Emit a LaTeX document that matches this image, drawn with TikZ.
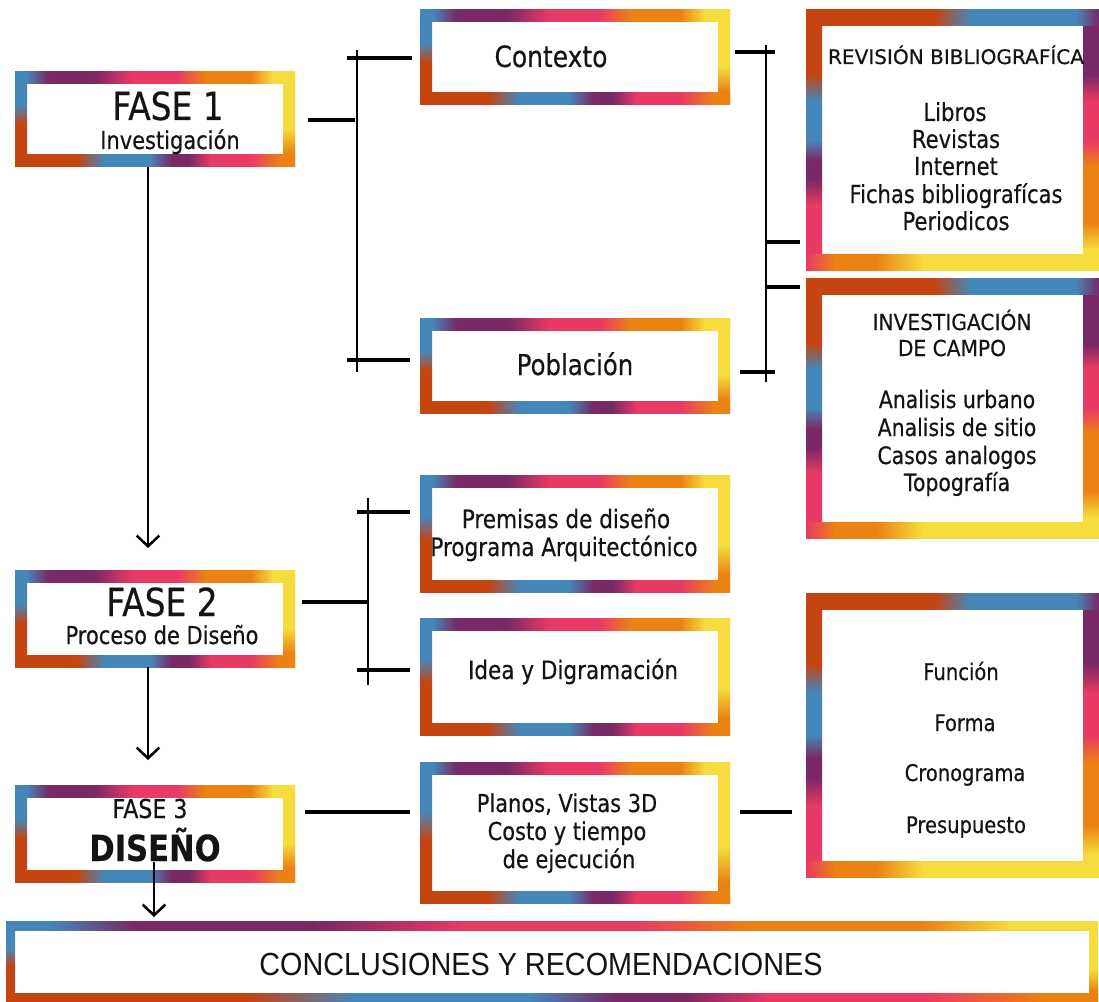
\documentclass[tikz,border=0pt]{standalone}
\usepackage{fontspec}
\setmainfont{DejaVu Sans}[FakeStretch=0.85,FakeBold=0.35]
\newfontfamily\concfont{Liberation Sans}
\usetikzlibrary{calc,arrows.meta,fit}
\definecolor{cbrn}{RGB}{196,68,18}
\definecolor{cblu}{RGB}{70,135,185}
\definecolor{cpur}{RGB}{120,40,100}
\definecolor{cpnk}{RGB}{232,58,100}
\definecolor{corg}{RGB}{236,130,20}
\definecolor{cyel}{RGB}{246,220,60}
\definecolor{ctxt}{RGB}{20,20,20}
% standard frames
\pgfdeclarehorizontalshading{stdtop}{100bp}{color(0bp)=(cblu); color(25bp)=(cblu); color(27bp)=(cblu); color(31bp)=(cpur); color(39bp)=(cpur); color(46bp)=(cpnk); color(54bp)=(cpnk); color(59bp)=(corg); color(67bp)=(corg); color(71bp)=(cyel); color(75bp)=(cyel); color(100bp)=(cyel)}
\pgfdeclarehorizontalshading{stdbot}{100bp}{color(0bp)=(cbrn); color(25bp)=(cbrn); color(36bp)=(cbrn); color(41bp)=(cblu); color(49bp)=(cblu); color(53bp)=(cpur); color(56bp)=(cpur); color(60bp)=(cpnk); color(67bp)=(cpnk); color(72.5bp)=(corg); color(75bp)=(corg); color(100bp)=(corg)}
\pgfdeclareverticalshading{stdleft}{100bp}{color(0bp)=(cbrn); color(25bp)=(cbrn); color(47.5bp)=(cbrn); color(57.5bp)=(cblu); color(75bp)=(cblu); color(100bp)=(cblu)}
\pgfdeclareverticalshading{stdright}{100bp}{color(0bp)=(corg); color(25bp)=(corg); color(32.5bp)=(corg); color(45bp)=(cyel); color(75bp)=(cyel); color(100bp)=(cyel)}
% rotated frames (right column)
\pgfdeclarehorizontalshading{rottop}{100bp}{color(0bp)=(cbrn); color(25bp)=(cbrn); color(47bp)=(cbrn); color(53bp)=(cblu); color(71bp)=(cblu); color(75bp)=(cpur); color(100bp)=(cpur)}
\pgfdeclareverticalshading{rotright}{100bp}{color(0bp)=(cyel); color(25bp)=(cyel); color(29bp)=(cyel); color(34bp)=(corg); color(45bp)=(corg); color(50bp)=(cpnk); color(57.5bp)=(cpnk); color(62.5bp)=(cpur); color(75bp)=(cpur); color(100bp)=(cpur)}
\pgfdeclarehorizontalshading{rotbot}{100bp}{color(0bp)=(cpnk); color(25bp)=(cpnk); color(30bp)=(corg); color(37bp)=(corg); color(45bp)=(cyel); color(75bp)=(cyel); color(100bp)=(cyel)}
\pgfdeclareverticalshading{rotleft}{100bp}{color(0bp)=(cpnk); color(25bp)=(cpnk); color(37.5bp)=(cpnk); color(42.5bp)=(cpur); color(46bp)=(cpur); color(50bp)=(cblu); color(57.5bp)=(cblu); color(62.5bp)=(cbrn); color(75bp)=(cbrn); color(100bp)=(cbrn)}
\newcommand\gframe[3]{%
  \shade[shading=#3left] (#1.north west) rectangle ($(#1.south west)+(#2,0)$);
  \shade[shading=#3right] ($(#1.north east)-(#2,0)$) rectangle (#1.south east);
  \shade[shading=#3top] (#1.north west) rectangle ($(#1.north east)+(0,#2)$);
  \shade[shading=#3bot] ($(#1.south west)-(0,#2)$) rectangle (#1.south east);
}
\tikzset{
  bx/.style={inner sep=0pt, outer sep=0pt, fill=white},
  tx/.style={anchor=base, inner sep=0pt, text=ctxt, font=\fontsize{#1}{#1}\selectfont},
  br/.style={line width=2.2pt, black},
  tk/.style={line width=3.2pt, black},
  ar/.style={line width=1.9pt, black, -{Straight Barb[length=8pt,width=17pt]}}
}
\begin{document}
\begin{tikzpicture}[x=0.75pt,y=-0.75pt]
\useasboundingbox[fill=white] (0,0) rectangle (1099,1002);
% boxes
\node[bx, fit={(15,72) (295,167)}] (f1) {};
\node[bx, fit={(420,10) (730,105)}] (ctx) {};
\node[bx, fit={(420,318) (730,413)}] (pob) {};
\node[bx, fit={(806,10) (1099,270)}] (rev) {};
\node[bx, fit={(806,278) (1099,538)}] (inv) {};
\node[bx, fit={(420,475) (730,592)}] (pre) {};
\node[bx, fit={(420,618) (730,735)}] (ide) {};
\node[bx, fit={(15,570) (295,667)}] (f2) {};
\node[bx, fit={(15,785) (295,882)}] (f3) {};
\node[bx, fit={(420,762) (730,903)}] (pla) {};
\node[bx, fit={(806,593) (1099,877)}] (fun) {};
\node[bx, fit={(6,921) (1098,1002)}] (con) {};
\gframe{f1}{12}{std}
\gframe{ctx}{12}{std}
\gframe{pob}{12}{std}
\gframe{pre}{12}{std}
\gframe{ide}{12}{std}
\gframe{f2}{12}{std}
\gframe{f3}{12}{std}
\gframe{pla}{12}{std}
\gframe{rev}{16}{rot}
\gframe{inv}{16}{rot}
\gframe{fun}{16}{rot}
\gframe{con}{9}{std}
% texts
\node[tx=29] (f1a) at (168,120) {FASE 1};
\node[tx=18.5] (f1b) at (170,149) {Investigación};
\node[tx=22] (ctxa) at (551,67) {Contexto};
\node[tx=15] (reva) at (956,64) {\scalebox{1.18}[1]{REVISIÓN BIBLIOGRAFÍCA}};
\node[tx=18.6] (revb) at (955,121) {Libros};
\node[tx=18.6] (revc) at (956,148) {Revistas};
\node[tx=18.6] (revd) at (956,175) {Internet};
\node[tx=18.6] (reve) at (956,203) {Fichas bibliografícas};
\node[tx=18.6] (revf) at (956,230) {Periodicos};
\node[tx=16.5] (inva) at (952,330) {\scalebox{1.08}[1]{INVESTIGACIÓN}};
\node[tx=16.5] (invb) at (952,356) {\scalebox{1.08}[1]{DE CAMPO}};
\node[tx=18] (invc) at (957,408) {Analisis urbano};
\node[tx=18] (invd) at (957,436) {Analisis de sitio};
\node[tx=18] (inve) at (957,464) {Casos analogos};
\node[tx=18] (invf) at (957,491) {Topografía};
\node[tx=21.5] (poba) at (575,375) {Población};
\node[tx=19] (prea) at (566,528) {Premisas de diseño};
\node[tx=19] (preb) at (564,556) {Programa Arquitectónico};
\node[tx=19] (idea) at (573,679) {Idea y Digramación};
\node[tx=29] (f2a) at (162,616) {FASE 2};
\node[tx=18.5] (f2b) at (162,644) {Proceso de Diseño};
\node[tx=19.5] (f3a) at (150,818) {FASE 3};
\node[tx=27] (f3b) at (155,861) {\bfseries DISEÑO};
\node[tx=18.5] (plaa) at (567,812) {Planos, Vistas 3D};
\node[tx=18.5] (plab) at (567,840) {Costo y tiempo};
\node[tx=18.5] (plac) at (569,868) {de ejecución};
\node[tx=17.2] (funa) at (961,680) {Función};
\node[tx=17.2] (funb) at (965,731) {Forma};
\node[tx=17.2] (func) at (965,781) {Cronograma};
\node[tx=17.2] (fund) at (966,833) {Presupuesto};
\node[tx=24] (cona) at (541,975) {\scalebox{0.9}[1]{\concfont CONCLUSIONES Y RECOMENDACIONES}};
% bracket 1
\coordinate (b1t) at (357,50); \coordinate (b1b) at (357,372);
\coordinate (b1s) at (308,120); \coordinate (b1m) at (355,120);
\coordinate (b1a) at (347,58); \coordinate (b1c) at (412,58);
\coordinate (b1d) at (347,360); \coordinate (b1e) at (410,360);
\draw[br] (b1t) -- (b1b);
\draw[tk] (b1s) -- (b1m);
\draw[tk] (b1a) -- (b1c);
\draw[tk] (b1d) -- (b1e);
% bracket 2
\coordinate (b2t) at (766,45); \coordinate (b2b) at (766,382);
\coordinate (b2a) at (735,52); \coordinate (b2c) at (775,52);
\coordinate (b2d) at (766,242); \coordinate (b2e) at (800,242);
\coordinate (b2f) at (766,287); \coordinate (b2g) at (800,287);
\coordinate (b2h) at (740,372); \coordinate (b2i) at (775,372);
\draw[br] (b2t) -- (b2b);
\draw[tk] (b2a) -- (b2c);
\draw[tk] (b2d) -- (b2e);
\draw[tk] (b2f) -- (b2g);
\draw[tk] (b2h) -- (b2i);
% bracket 3
\coordinate (b3t) at (368,498); \coordinate (b3b) at (368,685);
\coordinate (b3s) at (302,602); \coordinate (b3m) at (368,602);
\coordinate (b3a) at (357,512); \coordinate (b3c) at (410,512);
\coordinate (b3d) at (357,670); \coordinate (b3e) at (410,670);
\draw[br] (b3t) -- (b3b);
\draw[tk] (b3s) -- (b3m);
\draw[tk] (b3a) -- (b3c);
\draw[tk] (b3d) -- (b3e);
% fase 3 links
\coordinate (l1a) at (305,812); \coordinate (l1b) at (410,812);
\coordinate (l2a) at (740,812); \coordinate (l2b) at (792,812);
\draw[tk] (l1a) -- (l1b);
\draw[tk] (l2a) -- (l2b);
% arrows
\coordinate (a1e) at (148,548);
\coordinate (a2e) at (148,760);
\coordinate (a3s) at (154,862); \coordinate (a3e) at (154,917);
\draw[ar] (f1.south -| a1e) -- (a1e);
\draw[ar] (f2.south -| a2e) -- (a2e);
\draw[ar] (a3s) -- (a3e);
\end{tikzpicture}
\end{document}
